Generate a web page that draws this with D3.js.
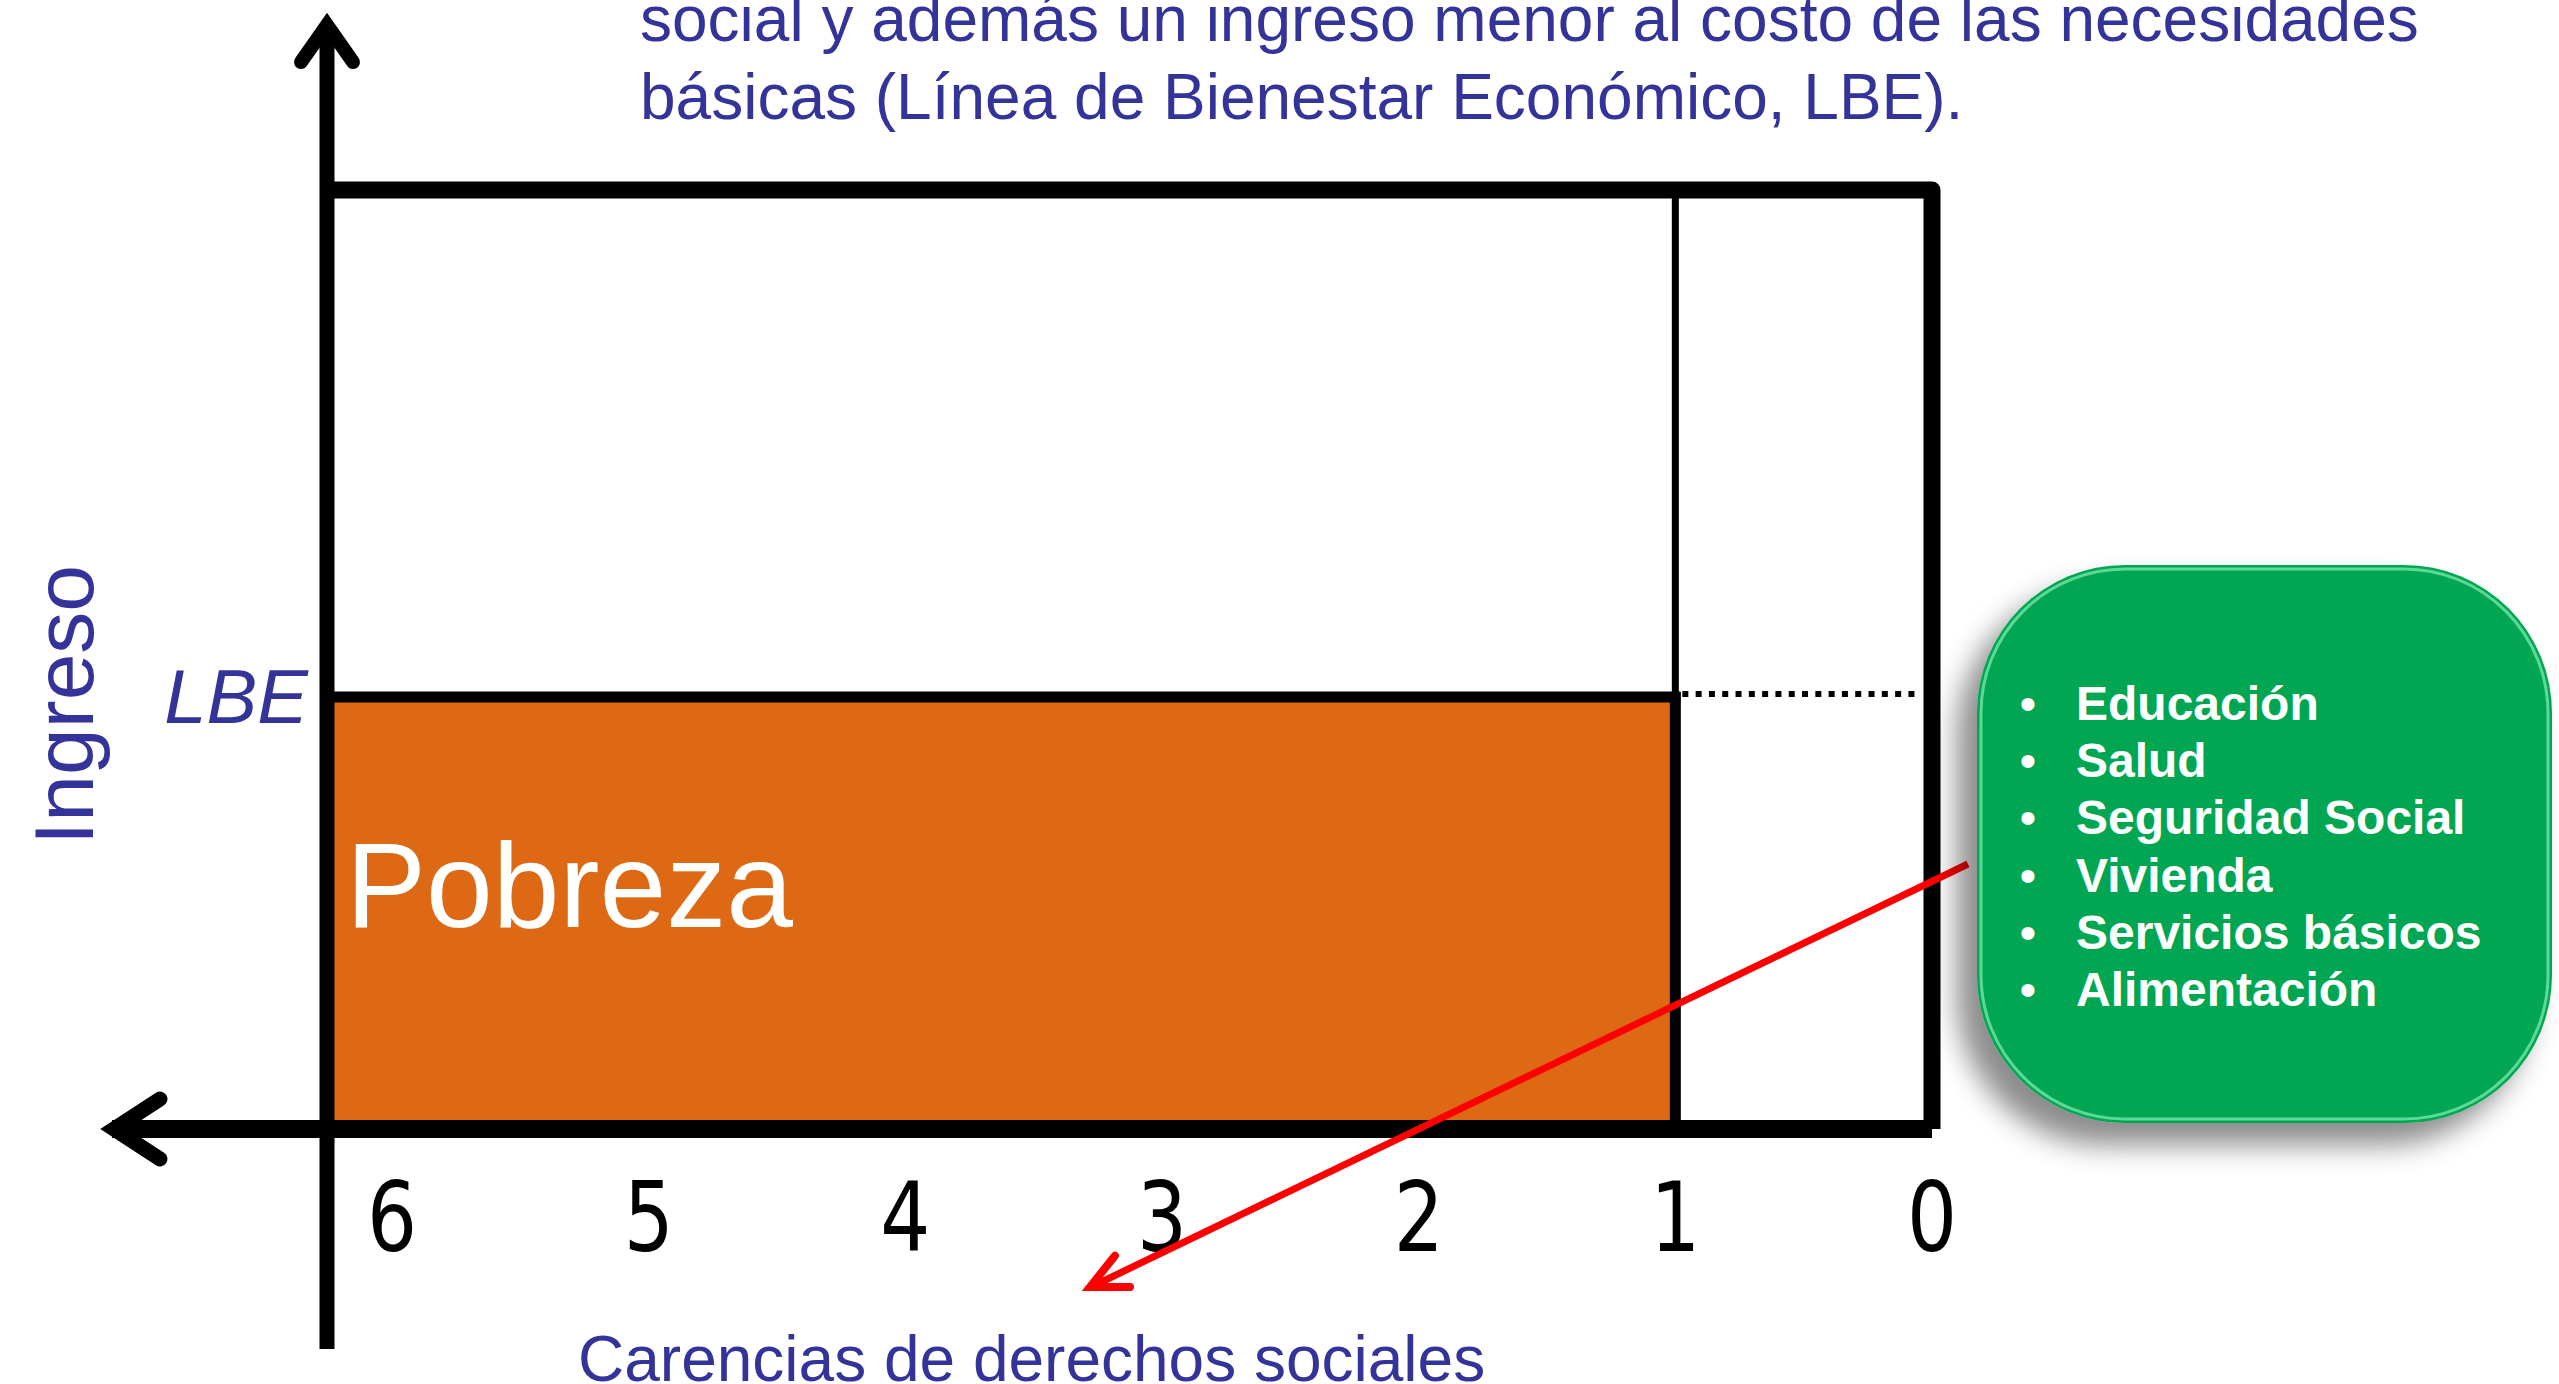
<!DOCTYPE html>
<html>
<head>
<meta charset="utf-8">
<script src="https://cdn.jsdelivr.net/npm/d3@7"></script>
<style>
  html, body { margin: 0; padding: 0; background: #fff; }
  svg { display: block; }
</style>
</head>
<body>
<div id="chart"></div>
<script>
// tick labels on the horizontal axis (number of social deprivations)
const carencias = [6, 5, 4, 3, 2, 1, 0];
// income axis, poverty line (LBE) as share of the drawn range
const ingresoMax = 100;
const lbe = 46;
// poverty = income below LBE and at least this many deprivations
const pobrezaDesde = 1;
const derechos = ['Educación', 'Salud', 'Seguridad Social', 'Vivienda', 'Servicios básicos', 'Alimentación'];
const textoSuperior = [
  'social y además un ingreso menor al costo de las necesidades',
  'básicas (Línea de Bienestar Económico, LBE).'
];

const width = 2559;
const height = 1384;
const azul = '#333399';
const naranja = '#DD6914';
const verde = '#00A651';
const axisX = 327;      // vertical axis / left side of the box

const svg = d3.select('#chart')
  .append('svg')
  .attr('width', width)
  .attr('height', height)
  .style('font-family', '"Liberation Sans", Arial, sans-serif');

const x = d3.scaleLinear().domain([6, 0]).range([392, 1932]);
const y = d3.scaleLinear().domain([0, ingresoMax]).range([1129, 190]);

const defs = svg.append('defs');
const shadow = defs.append('filter').attr('id', 'sombra')
  .attr('x', '-25%').attr('y', '-25%').attr('width', '150%').attr('height', '150%');
shadow.append('feDropShadow')
  .attr('dx', -20).attr('dy', 22)
  .attr('stdDeviation', 14)
  .attr('flood-color', '#000')
  .attr('flood-opacity', 0.45);

// --- poverty area
svg.append('rect')
  .attr('x', axisX + 7)
  .attr('y', y(lbe))
  .attr('width', x(pobrezaDesde) - axisX - 7)
  .attr('height', y(0) - y(lbe))
  .attr('fill', naranja);

// --- box
svg.append('path')
  .attr('d', `M${axisX},${y(ingresoMax)} H${x(0)} V${y(0)}`)
  .attr('fill', 'none')
  .attr('stroke', '#000')
  .attr('stroke-width', 17)
  .attr('stroke-linejoin', 'round');

// line at 1 carencia: thin above LBE, heavier along the poverty area
svg.append('line')
  .attr('x1', x(pobrezaDesde)).attr('x2', x(pobrezaDesde))
  .attr('y1', y(ingresoMax)).attr('y2', y(lbe))
  .attr('stroke', '#000').attr('stroke-width', 7);
svg.append('line')
  .attr('x1', x(pobrezaDesde)).attr('x2', x(pobrezaDesde))
  .attr('y1', y(lbe) - 5).attr('y2', y(0))
  .attr('stroke', '#000').attr('stroke-width', 11);

// LBE line
svg.append('line')
  .attr('x1', axisX).attr('x2', x(pobrezaDesde) + 5)
  .attr('y1', y(lbe)).attr('y2', y(lbe))
  .attr('stroke', '#000').attr('stroke-width', 11);
svg.append('line')
  .attr('x1', x(pobrezaDesde) + 7).attr('x2', x(0) - 14)
  .attr('y1', y(lbe) - 3).attr('y2', y(lbe) - 3)
  .attr('stroke', '#000').attr('stroke-width', 6)
  .attr('stroke-dasharray', '6 7.3');

// --- axes with arrows
svg.append('line')
  .attr('x1', axisX).attr('x2', axisX)
  .attr('y1', 30).attr('y2', 1349)
  .attr('stroke', '#000').attr('stroke-width', 15);
svg.append('path')
  .attr('d', `M${axisX - 26},62 L${axisX},25 L${axisX + 26},62`)
  .attr('fill', 'none').attr('stroke', '#000').attr('stroke-width', 14)
  .attr('stroke-linecap', 'round').attr('stroke-linejoin', 'miter');

svg.append('line')
  .attr('x1', 112).attr('x2', x(0))
  .attr('y1', y(0)).attr('y2', y(0))
  .attr('stroke', '#000').attr('stroke-width', 18);
svg.append('path')
  .attr('d', `M160,${y(0) - 30} L114,${y(0)} L160,${y(0) + 30}`)
  .attr('fill', 'none').attr('stroke', '#000').attr('stroke-width', 15)
  .attr('stroke-linecap', 'round').attr('stroke-linejoin', 'miter');

// tick labels (narrow figures, as in the slide)
svg.selectAll('text.tick')
  .data(carencias)
  .enter()
  .append('text')
  .attr('class', 'tick')
  .attr('transform', d => `translate(${x(d)},1251) scale(0.82,1)`)
  .attr('text-anchor', 'middle')
  .attr('font-family', '"DejaVu Sans", sans-serif')
  .attr('font-size', 96)
  .attr('fill', '#000')
  .text(d => d);

// --- labels
svg.append('text')
  .attr('x', 578).attr('y', 1381)
  .attr('font-size', 64)
  .attr('fill', azul)
  .text('Carencias de derechos sociales');

svg.append('text')
  .attr('transform', 'translate(93,705) rotate(-90)')
  .attr('text-anchor', 'middle')
  .attr('font-size', 84)
  .attr('fill', azul)
  .text('Ingreso');

svg.append('text')
  .attr('x', 308).attr('y', y(lbe) + 26)
  .attr('text-anchor', 'end')
  .attr('font-size', 76)
  .attr('font-style', 'italic')
  .attr('fill', azul)
  .text('LBE');

svg.append('text')
  .attr('x', 346).attr('y', 927)
  .attr('font-size', 120)
  .attr('fill', '#fff')
  .text('Pobreza');

svg.selectAll('text.sup')
  .data(textoSuperior)
  .enter()
  .append('text')
  .attr('class', 'sup')
  .attr('x', 640)
  .attr('y', (d, i) => 41 + i * 78)
  .attr('font-size', 64)
  .attr('fill', azul)
  .text(d => d);

// --- red pointer from the rights box to the axis title
const ini = [1968, 864];
const fin = [1090, 1287];
const ang = Math.atan2(ini[1] - fin[1], ini[0] - fin[0]);
const barb = a => [fin[0] + 40 * Math.cos(ang + a), fin[1] + 40 * Math.sin(ang + a)];
svg.append('line')
  .attr('x1', ini[0]).attr('y1', ini[1])
  .attr('x2', fin[0] + 3).attr('y2', fin[1] - 1)
  .attr('stroke', '#FF0000').attr('stroke-width', 7);
svg.append('path')
  .attr('d', d3.line()([barb(-0.45), fin, barb(0.45)]))
  .attr('fill', 'none').attr('stroke', '#FF0000').attr('stroke-width', 8)
  .attr('stroke-linecap', 'round').attr('stroke-linejoin', 'miter');

// --- rights box
const caja = svg.append('g');
caja.append('rect')
  .attr('x', 1977).attr('y', 565)
  .attr('width', 575).attr('height', 558)
  .attr('rx', 148).attr('ry', 148)
  .attr('fill', verde)
  .attr('filter', 'url(#sombra)');
caja.append('rect')
  .attr('x', 1981).attr('y', 569)
  .attr('width', 567).attr('height', 550)
  .attr('rx', 144).attr('ry', 144)
  .attr('fill', 'none')
  .attr('stroke', '#7BEAB0')
  .attr('stroke-opacity', 0.75)
  .attr('stroke-width', 3);

const items = caja.selectAll('g.item')
  .data(derechos)
  .enter()
  .append('g')
  .attr('class', 'item')
  .attr('transform', (d, i) => `translate(0,${720 + i * 57.2})`);
items.append('text')
  .attr('x', 2028)
  .attr('text-anchor', 'middle')
  .attr('font-size', 48)
  .attr('fill', '#fff')
  .text('•');
items.append('text')
  .attr('x', 2076)
  .attr('font-size', 48)
  .attr('font-weight', 'bold')
  .attr('fill', '#fff')
  .text(d => d);
</script>
</body>
</html>
